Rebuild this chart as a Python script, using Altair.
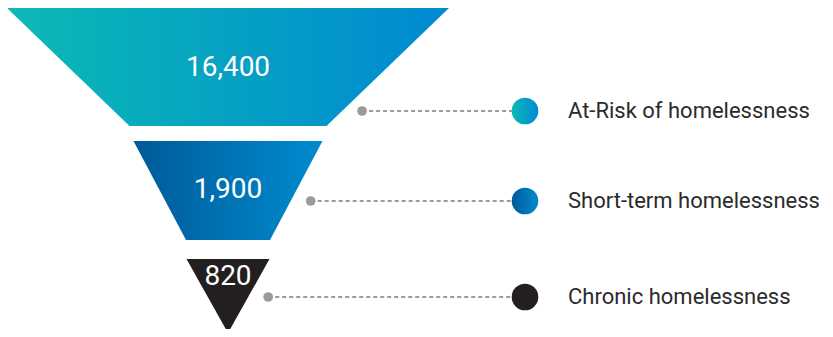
import altair as alt
import pandas as pd

# ---- data ----
categories = ["At-Risk of homelessness", "Short-term homelessness", "Chronic homelessness"]
values = [16400, 1900, 820]
value_labels = ["16,400", "1,900", "820"]
grad_left = ["#0BBAB4", "#005A98", "#231F20"]
grad_right = ["#0089D2", "#008BD0", "#231F20"]

# ---- layout (page pixels) ----
CENTER_X = 228
stage_top = [8, 141, 259]
stage_bottom = [126, 240, 333]
half_top = [221, 94.5, 41.5]
half_bottom = [98.5, 42, 0]
label_y = [68, 190, 277]
leader_y = [111, 201, 297]
DOT_GAP = 20
CIRCLE_X = 525
TEXT_X = 568

W, H = 817, 321
xscale = alt.Scale(domain=[8, 8 + W], nice=False, zero=False)
yscale = alt.Scale(domain=[8, 8 + H], nice=False, zero=False, reverse=True)


def grad(c1, c2):
    return alt.LinearGradient(
        gradient="linear",
        stops=[alt.GradientStop(color=c1, offset=0), alt.GradientStop(color=c2, offset=1)],
        x1=0, x2=1, y1=0, y2=0,
    )


rows = []
for i in range(3):
    t, b = stage_top[i], stage_bottom[i]
    ht, hb = half_top[i], half_bottom[i]
    ly = leader_y[i]
    edge = CENTER_X + ht + (hb - ht) * (ly - t) / (b - t)
    rows.append(dict(cat=categories[i], value=values[i], label=value_labels[i],
                     cx=CENTER_X, ly=label_y[i], lead=ly, dotx=edge + DOT_GAP,
                     circx=CIRCLE_X, textx=TEXT_X))
df = pd.DataFrame(rows)

layers = []
for i in range(3):
    t, b = stage_top[i], stage_bottom[i]
    ht, hb = half_top[i], half_bottom[i]
    sdf = pd.DataFrame({"y": [t, b], "xl": [CENTER_X - ht, CENTER_X - hb], "xr": [CENTER_X + ht, CENTER_X + hb]})
    layers.append(
        alt.Chart(sdf).mark_area(orient="horizontal", color=grad(grad_left[i], grad_right[i]), opacity=1)
        .encode(y=alt.Y("y:Q", scale=yscale, axis=None),
                x=alt.X("xl:Q", scale=xscale, axis=None),
                x2="xr:Q")
    )

base = alt.Chart(df)
X = lambda f: alt.X(f + ":Q", scale=xscale, axis=None)
Y = lambda f: alt.Y(f + ":Q", scale=yscale, axis=None)

layers.append(base.mark_rule(color="#9b9b9b", strokeWidth=2, strokeDash=[4, 3])
              .encode(x=X("dotx"), x2="circx:Q", y=Y("lead")))
layers.append(base.mark_circle(color="#9b9b9b", size=95, opacity=1)
              .encode(x=X("dotx"), y=Y("lead")))
for i in range(3):
    layers.append(alt.Chart(df.iloc[[i]]).mark_circle(color=grad(grad_left[i], grad_right[i]), size=707, opacity=1)
                  .encode(x=X("circx"), y=Y("lead")))
layers.append(base.mark_text(color="white", font="Roboto", fontSize=28, align="center", baseline="middle")
              .encode(x=X("cx"), y=Y("ly"), text="label:N"))
layers.append(base.mark_text(color="#2b2b2b", font="Roboto", fontSize=22, align="left", baseline="middle")
              .encode(x=X("textx"), y=Y("lead"), text="cat:N"))

chart = alt.layer(*layers).properties(
    width=W, height=H,
    autosize=alt.AutoSizeParams(type="none"),
    padding=0,
).configure_view(stroke=None)

chart.save("out.html", embed_options={"renderer": "svg", "actions": False})
